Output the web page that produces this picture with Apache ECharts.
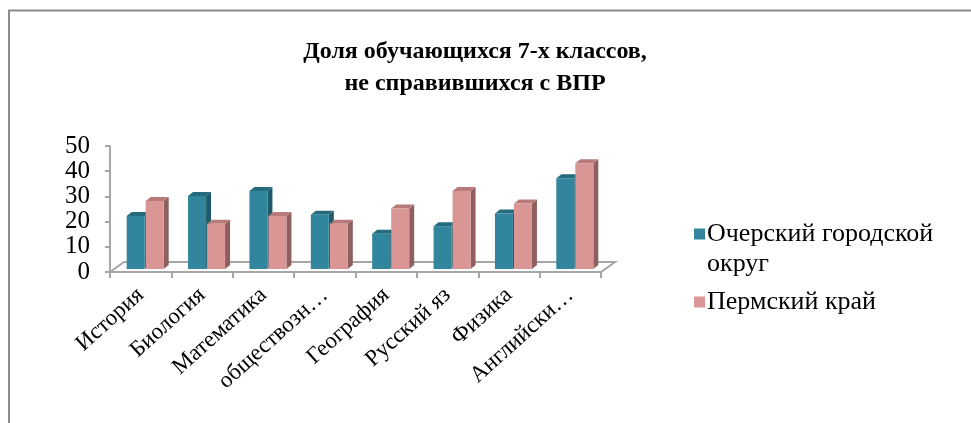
<!DOCTYPE html>
<html>
<head>
<meta charset="utf-8">
<script src="https://cdn.jsdelivr.net/npm/echarts@6/dist/echarts.min.js"></script>
<style>
  html, body { margin: 0; padding: 0; background: #fff; }
  #chart { width: 971px; height: 423px; }
</style>
</head>
<body>
<div id="chart"></div>
<script>
// данные
const categories = ['История', 'Биология', 'Математика', 'обществозн…', 'География', 'Русский яз', 'Физика', 'Английски…']
const ocherValues = [21, 29, 31, 21.5, 14, 17, 22, 36]
const permValues = [27, 18, 21, 18, 24, 31, 26, 42]
const seriesNames = ['Очерский городской округ', 'Пермский край']
const yTicks = [0, 50, 10]

const FONT = 'Liberation Serif, DejaVu Serif, serif'
// смещения псевдо-3D
const DX = 5, DY = -4, OX = 4, OY = -3, BW = 18

const palettes = [
  { front: '#31859C', side: '#1F5A6A', top: '#256B7E' },
  { front: '#D99694', side: '#8E5F5E', top: '#B97B79' }
]

function barRenderer (k) {
  return function (params, api) {
    const idx = api.value(0)
    const top = api.coord([idx, api.value(1)])
    const base = api.coord([idx, 0])
    const x0 = top[0] + OX + (k === 0 ? -BW : 1)
    const x1 = x0 + BW
    const yT = top[1] + OY
    const yB = base[1] + OY
    const p = palettes[k]
    return {
      type: 'group',
      children: [
        { type: 'polygon', shape: { points: [[x1, yB], [x1 + DX, yB + DY], [x1 + DX, yT + DY], [x1, yT]] }, style: { fill: p.side } },
        { type: 'polygon', shape: { points: [[x0, yT], [x1, yT], [x1 + DX, yT + DY], [x0 + DX, yT + DY]] }, style: { fill: p.top } },
        { type: 'rect', shape: { x: x0, y: yT, width: BW, height: yB - yT }, style: { fill: p.front } }
      ]
    }
  }
}

function floorRenderer (params, api) {
  const n = categories.length
  const half = api.size([1, 0])[0] / 2
  const L = api.coord([0, 0])[0] - half
  const R = api.coord([n - 1, 0])[0] + half
  const B = api.coord([0, 0])[1]
  return {
    type: 'polygon',
    shape: { points: [[L, B], [L + 14, B - 10], [R + 14, B - 10], [R, B]] },
    style: { fill: '#fff', stroke: '#A6A6A6', lineWidth: 2 }
  }
}

let myChart = echarts.init(document.getElementById('chart'))
myChart.setOption({
  animation: false,
  title: {
    text: 'Доля обучающихся 7-х классов,\nне справившихся с ВПР',
    left: 470,
    textAlign: 'center',
    top: 31,
    textStyle: { fontFamily: FONT, fontSize: 24, fontWeight: 'bold', color: '#000', lineHeight: 32 }
  },
  graphic: [
    { type: 'polyline', shape: { points: [[9, 423], [9, 10.5], [971, 10.5]] }, style: { stroke: '#8C8C8C', lineWidth: 2, fill: null } }
  ],
  legend: {
    orient: 'vertical',
    left: 689,
    top: 184,
    itemWidth: 11,
    itemHeight: 11,
    itemGap: 8,
    icon: 'rect',
    data: seriesNames,
    formatter: function (name) {
      return name === seriesNames[0] ? '\nОчерский городской\nокруг' : name
    },
    textStyle: { fontFamily: FONT, fontSize: 26, color: '#000', lineHeight: 30, padding: [0, 0, 0, -3] }
  },
  grid: { left: 110, right: 370, top: 146, bottom: 151 },
  xAxis: {
    type: 'category',
    data: categories,
    axisLine: { lineStyle: { color: '#A6A6A6', width: 2 } },
    axisTick: { show: true, length: 6, lineStyle: { color: '#A6A6A6', width: 2 } },
    axisLabel: { rotate: 42, interval: 0, margin: 20, fontFamily: FONT, fontSize: 23, color: '#000' }
  },
  yAxis: {
    type: 'value',
    min: yTicks[0],
    max: yTicks[1],
    interval: yTicks[2],
    axisLine: { show: true, lineStyle: { color: '#A6A6A6', width: 2 } },
    axisTick: { show: true, length: 5, lineStyle: { color: '#A6A6A6', width: 2 } },
    splitLine: { show: false },
    axisLabel: {
      margin: 20,
      fontFamily: FONT,
      fontSize: 25,
      lineHeight: 20,
      color: '#000',
      showMinLabel: true,
      showMaxLabel: true,
      hideOverlap: false
    }
  },
  series: [
    {
      type: 'custom',
      name: 'floor',
      silent: true,
      z: 1,
      renderItem: floorRenderer,
      data: [[0, 0]]
    },
    {
      type: 'custom',
      name: seriesNames[0],
      z: 3,
      itemStyle: { color: palettes[0].front },
      renderItem: barRenderer(0),
      data: ocherValues.map((v, i) => [i, v])
    },
    {
      type: 'custom',
      name: seriesNames[1],
      z: 3,
      itemStyle: { color: palettes[1].front },
      renderItem: barRenderer(1),
      data: permValues.map((v, i) => [i, v])
    }
  ]
})
</script>
</body>
</html>
